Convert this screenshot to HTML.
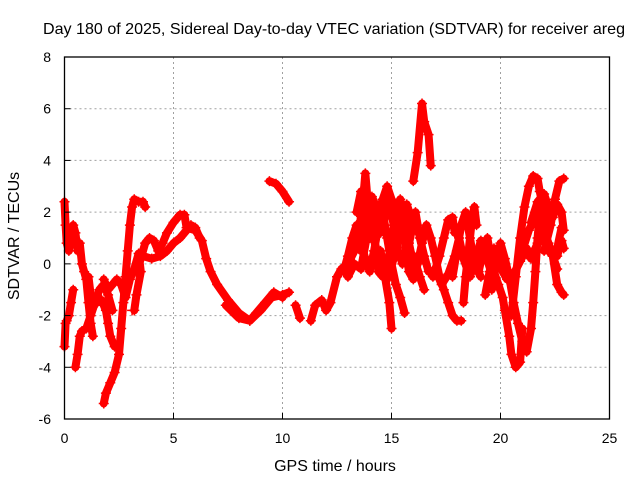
<!DOCTYPE html>
<html><head><meta charset="utf-8"><style>
html,body{margin:0;padding:0;background:#fff;}
svg{display:block;font-family:"Liberation Sans","DejaVu Sans",sans-serif;}
</style></head><body>
<svg id="chart" width="640" height="480" viewBox="0 0 640 480" xmlns="http://www.w3.org/2000/svg">
<rect x="0" y="0" width="640" height="480" fill="#fff"/>
<text x="334" y="34" font-size="16" text-anchor="middle" fill="#000" textLength="582" lengthAdjust="spacingAndGlyphs">Day 180 of 2025, Sidereal Day-to-day VTEC variation (SDTVAR) for receiver areg</text>
<text x="335" y="471" font-size="16" text-anchor="middle" fill="#000">GPS time / hours</text>
<text x="19" y="236" font-size="16" text-anchor="middle" fill="#000" transform="rotate(-90 19 236)">SDTVAR / TECUs</text>
<g id="grid"></g>
<g id="series"></g>
<g id="axes"></g>
</svg>
<script>
const xTicks = [0,5,10,15,20,25];
const yTicks = [-6,-4,-2,0,2,4,6,8];
const track1 = [[0,2.4],[0.05,1.5],[0.1,0.8],[0.2,0.5],[0.3,1.2],[0.4,1.5],[0.5,1.2],[0.6,0.5],[0.7,0.8],[0.8,0],[0.9,-0.3],[1.0,-0.6],[1.1,-1.5],[1.2,-2.3],[1.3,-2.8]];
const track2 = [[0,-3.2],[0.05,-2.3],[0.1,-2.2],[0.2,-2.0],[0.3,-1.5],[0.4,-1.0]];
const track3 = [[0.5,-4.0],[0.6,-3.5],[0.7,-2.8],[0.8,-2.6],[1.0,-2.5],[1.2,-2.0],[1.4,-1.5],[1.6,-1.0],[1.8,-0.8],[2.0,-1.2],[2.2,-1.8]];
const track4 = [[1.1,-0.5],[1.2,-1.2],[1.3,-1.5],[1.5,-1.5],[1.7,-1.4],[1.9,-1.8],[2.0,-2.3],[2.1,-2.8],[2.3,-3.2]];
const track5 = [[1.8,-5.4],[1.9,-5.0],[2.1,-4.6],[2.3,-4.2],[2.5,-3.5],[2.6,-2.5],[2.7,-1.5],[2.8,-0.5],[2.9,0.5],[3.0,1.5],[3.1,2.2],[3.2,2.5],[3.4,2.4],[3.6,2.4],[3.7,2.2]];
const track6 = [[1.8,-0.6],[2.0,-1.0],[2.2,-0.8],[2.4,-0.6],[2.6,-0.8],[2.8,-1.3],[3.0,-0.6],[3.2,-0.2],[3.4,0.4],[3.5,-0.3],[3.3,-1.2],[3.2,-1.8]];
const track7 = [[3.3,-0.3],[3.5,0.2],[3.7,0.8],[3.9,1.0],[4.1,0.9],[4.3,0.5],[4.5,0.8],[4.7,1.2],[5.0,1.6],[5.3,1.9],[5.5,1.9],[5.6,1.4],[6.0,1.3],[6.3,0.9],[6.5,0.2],[6.7,-0.3],[7.0,-0.8],[7.5,-1.4],[8.0,-1.9],[8.5,-2.2],[9.0,-1.8],[9.5,-1.3],[10.0,-1.2],[10.3,-1.1]];
const track8 = [[3.6,0.3],[4.0,0.2],[4.4,0.3],[4.7,0.5],[5.0,0.8],[5.3,1.0],[5.6,1.3],[5.8,1.5],[6.0,1.4],[6.2,1.0]];
const track9 = [[7.4,-1.6],[8.0,-2.1],[8.5,-2.2],[8.8,-1.9],[9.2,-1.5],[9.6,-1.1],[10.0,-1.3]];
const track10 = [[9.4,3.2],[9.7,3.1],[10.0,2.8],[10.3,2.4]];
const track11 = [[10.6,-1.6],[10.8,-2.1]];
const track12 = [[11.3,-2.2],[11.5,-1.6],[11.8,-1.4],[12.0,-1.8],[12.2,-1.5],[12.5,-0.5],[12.7,-0.2],[13.0,0],[13.3,0.5],[13.5,1.2],[13.7,2.5],[13.8,3.5],[13.9,2.5],[14.0,1.0],[14.2,1.5],[14.4,2.0],[14.6,2.5],[14.8,3.0],[15.0,2.5],[15.2,2.0],[15.4,1.5],[15.6,1.0],[15.8,0.5],[16.0,0.3],[16.3,-0.5],[16.5,-1.0]];
const track13 = [[12.8,-0.3],[13.0,0.3],[13.2,1.0],[13.4,1.5],[13.6,0.8],[13.8,0.2],[14.0,-0.3],[14.2,0.5],[14.4,1.5],[14.6,2.0],[14.8,1.0],[15.0,0.0],[15.2,-0.8],[15.4,-1.3],[15.6,-1.9]];
const track14 = [[13.6,0.5],[13.8,1.5],[14.0,2.2],[14.2,1.0],[14.4,-0.3],[14.6,-0.5],[14.8,0],[15.0,0.8],[15.2,2.0],[15.4,2.5],[15.6,1.8],[15.8,0.8],[16.0,0],[16.2,-0.3]];
const track15 = [[14.5,0.5],[14.7,-0.5],[14.9,-1.5],[15.0,-2.5]];
const track16 = [[15.5,1.5],[15.8,-0.3],[16.0,-0.6],[16.2,0.0],[16.4,0.8],[16.6,1.5],[16.8,1.0],[17.0,0.3],[17.2,-0.5],[17.4,-1.0],[17.6,-1.5],[17.8,-2.0],[18.0,-2.2],[18.2,-2.2]];
const track17 = [[16.9,-0.5],[17.2,0.3],[17.4,1.0],[17.6,1.7],[17.8,1.8],[17.9,1.2]];
const track18 = [[16.0,3.2],[16.2,4.3],[16.4,6.2],[16.5,5.5],[16.7,5.0],[16.8,3.8]];
const track19 = [[17.8,-0.5],[18.0,0.5],[18.2,1.5],[18.4,2.0],[18.5,1.5],[18.7,0.5],[18.9,-0.2],[19.1,-0.5]];
const track20 = [[18.3,-1.5],[18.4,-0.5],[18.5,0.2],[18.6,1.0],[18.7,1.8],[18.8,2.2],[18.9,1.5]];
const track21 = [[19.0,-0.3],[19.2,0.5],[19.4,1.0],[19.5,0.5],[19.7,-0.3],[19.9,-0.8],[20.1,-1.3],[20.2,-1.8],[20.4,-2.8],[20.5,-3.5],[20.7,-4.0],[20.9,-3.8],[21.0,-2.5]];
const track22 = [[19.6,-1.0],[19.8,0],[20.0,0.8],[20.2,0.2],[20.4,-0.5],[20.6,-1.5],[20.8,-2.3],[21.0,-3.0],[21.2,-3.4],[21.4,-2.5],[21.5,-1.5],[21.6,-0.3],[21.7,1.0],[21.8,2.0]];
const track23 = [[20.5,-2.0],[20.7,-0.5],[20.9,1.0],[21.1,2.2],[21.3,3.0],[21.5,3.4],[21.7,3.3],[21.8,2.8],[22.0,2.0],[22.2,1.5]];
const track24 = [[21.0,0.5],[21.3,1.3],[21.6,1.8],[21.9,1.5],[22.2,0.8],[22.4,0.3],[22.6,-0.2]];
const track25 = [[22.0,0.5],[22.3,1.5],[22.5,2.5],[22.7,3.2],[22.9,3.3]];
const track26 = [[22.4,0.3],[22.6,-0.8],[22.8,-1.1],[22.9,-1.2]];
const track27 = [[22.6,0.3],[22.8,0.9],[22.9,0.6]];
const track28 = [[13.0,-0.5],[13.3,0.0],[13.6,-0.2],[13.9,1.2],[14.1,2.6],[14.3,2.2],[14.5,1.2],[14.7,1.8],[14.9,2.4],[15.1,1.5],[15.3,0.5],[15.5,0.0],[15.7,0.3],[15.9,1.2],[16.1,2.0],[16.3,1.0],[16.5,0.3],[16.7,-0.3]];
const track29 = [[13.4,2.0],[13.6,2.8],[13.8,2.2],[14.0,1.6],[14.3,0.6],[14.5,-0.2],[14.8,-0.6],[15.1,0.2],[15.3,1.0],[15.5,2.0],[15.7,2.3],[15.9,1.8],[16.1,1.3]];
const track30 = [[17.0,-0.2],[17.3,-0.8],[17.6,-0.4],[17.9,0.3],[18.1,1.0],[18.3,0.2],[18.6,-0.5],[18.9,0.3],[19.1,0.9],[19.3,0.4],[19.6,-0.4],[19.8,-0.8]];
const track31 = [[19.3,-1.2],[19.5,-0.3],[19.7,0.6],[19.9,0.2],[20.1,-0.3],[20.3,-0.6],[20.6,-0.4],[20.9,0.1],[21.2,0.6],[21.4,0.2],[21.7,0.8],[22.0,1.0],[22.3,0.4],[22.6,0.6],[22.8,1.4]];
const track32 = [[21.4,1.6],[21.7,2.4],[22.0,2.7],[22.2,2.2],[22.4,1.8],[22.6,2.3],[22.8,2.0],[22.9,1.3]];
const strays = [[3.1,-1.8]];
const tracks = [track1,track2,track3,track4,track5,track6,track7,track8,track9,track10,track11,track12,track13,track14,track15,track16,track17,track18,track19,track20,track21,track22,track23,track24,track25,track26,track27,track28,track29,track30,track31,track32,strays];

const NS='http://www.w3.org/2000/svg';
const X0=64.5,X1=609.5,Y0=419,Y1=57,xmin=0,xmax=25,ymin=-6,ymax=8;
function sx(v){return X0+(v-xmin)/(xmax-xmin)*(X1-X0);}
function sy(v){return Y0-(v-ymin)/(ymax-ymin)*(Y0-Y1);}
function mk(tag,attrs){const e=document.createElementNS(NS,tag);for(const k in attrs)e.setAttribute(k,attrs[k]);return e;}
const grid=document.getElementById('grid'),axes=document.getElementById('axes'),series=document.getElementById('series');

xTicks.forEach(t=>{
  const x=sx(t);
  if(t>xmin&&t<xmax){const g=mk('line',{x1:x,y1:Y0,x2:x,y2:Y1,stroke:'#a0a0a0','stroke-dasharray':'2,3','stroke-width':1});
  
  
  grid.appendChild(g);}
  const tk=mk('line',{x1:x,y1:Y0,x2:x,y2:Y0-6,stroke:'#000'});
  
  
  axes.appendChild(tk);
  const lb=mk('text',{x:x,y:443,'font-size':14,'text-anchor':'middle',fill:'#000'});lb.textContent=t;
  
  
  axes.appendChild(lb);
});
yTicks.forEach(t=>{
  const y=sy(t);
  if(t>ymin&&t<ymax){const g=mk('line',{x1:X0,y1:y,x2:X1,y2:y,stroke:'#a0a0a0','stroke-dasharray':'2,3','stroke-width':1});
  
  
  grid.appendChild(g);}
  const tk=mk('line',{x1:X0,y1:y,x2:X0+6,y2:y,stroke:'#000'});
  
  
  axes.appendChild(tk);
  const lb=mk('text',{x:51,y:y+5,'font-size':14,'text-anchor':'end',fill:'#000'});lb.textContent=t;
  
  
  axes.appendChild(lb);
});
const border=mk('rect',{x:X0,y:Y1,width:X1-X0,height:Y0-Y1,fill:'none',stroke:'#000','stroke-width':1.3});


axes.appendChild(border);

tracks.forEach(tr=>{
  if(tr.length>1){
    const pl=mk('polyline',{points:tr.map(p=>sx(p[0])+','+sy(p[1])).join(' '),fill:'none',stroke:'#ff0000','stroke-width':8,'stroke-linejoin':'round','stroke-linecap':'round'});
    
    
    series.appendChild(pl);
  }
  tr.forEach(p=>{
    const x=sx(p[0]),y=sy(p[1]);
    const m=mk('path',{d:`M${x-5},${y}H${x+5}M${x},${y-5}V${y+5}`,stroke:'#ff0000','stroke-width':1.5,fill:'none'});
    
    
    series.appendChild(m);
  });
});
</script>
</body></html>
